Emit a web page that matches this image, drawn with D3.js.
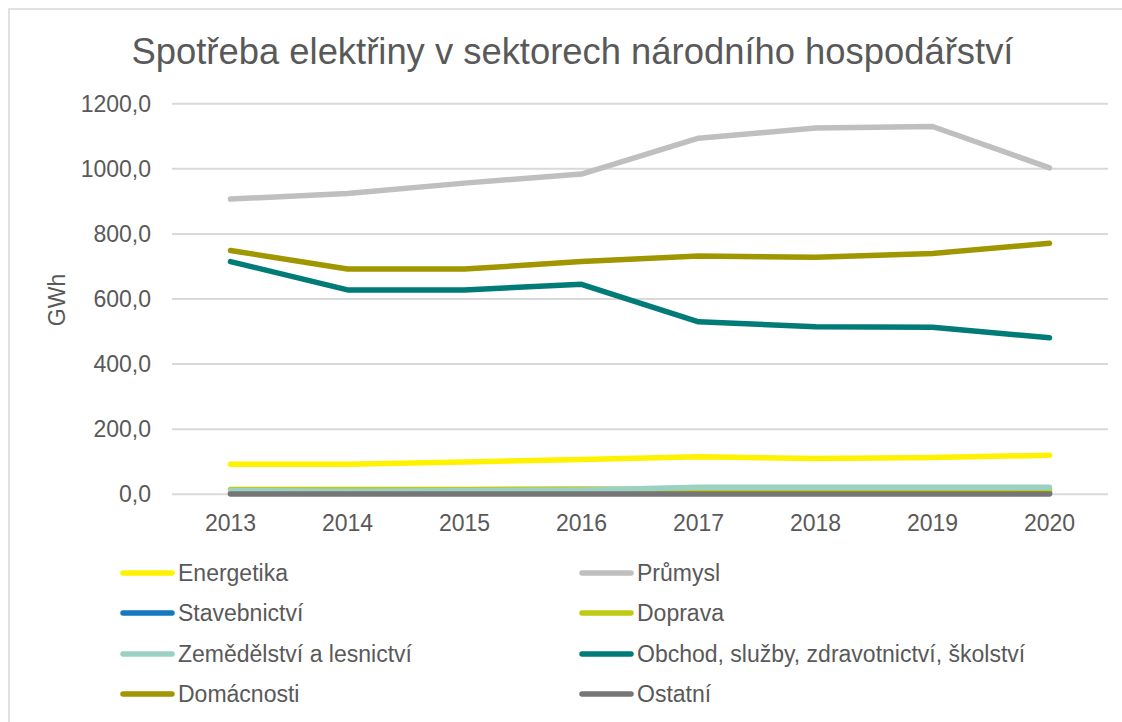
<!DOCTYPE html>
<html><head><meta charset="utf-8">
<script src="https://cdn.jsdelivr.net/npm/d3@7"></script>
<style>body{margin:0;background:#fff;} svg{display:block;font-family:"Liberation Sans",Arial,sans-serif;}</style>
</head><body><svg id="c" width="1122" height="722"></svg>
<script>
const years = ["2013","2014","2015","2016","2017","2018","2019","2020"];
const seriesNames = ["Energetika","Průmysl","Stavebnictví","Doprava","Zemědělství a lesnictví","Obchod, služby, zdravotnictví, školství","Domácnosti","Ostatní"];
const seriesColors = ["#FFF200","#BFBFBF","#1479BE","#BFCA12","#9AD1C3","#007B78","#A09700","#767676"];
const energetika = [92, 92, 99, 107, 115, 110, 113, 120];
const prumysl = [907, 924, 956, 984, 1094, 1125, 1130, 1003];
const stavebnictvi = [4, 4, 4, 4, 5, 5, 5, 5];
const doprava = [15, 15, 15, 16, 15, 15, 15, 15];
const zemedelstvi = [11, 9, 11, 13, 22, 22, 22, 22];
const obchod = [715, 628, 628, 645, 530, 515, 513, 481];
const domacnosti = [749, 692, 692, 715, 732, 728, 740, 771];
const ostatni = [1, 1, 1, 1, 1, 1, 1, 1];
const seriesValues = [energetika, prumysl, stavebnictvi, doprava, zemedelstvi, obchod, domacnosti, ostatni];
const yTicks = [0,200,400,600,800,1000,1200];
const title = "Spotřeba elektřiny v sektorech národního hospodářství";
const yTitle = "GWh";

const svg = d3.select("#c");
const txt = "#595959";
svg.append("rect").attr("x",0).attr("y",0).attr("width",1122).attr("height",722).attr("fill","#fff");
svg.append("rect").attr("x",9).attr("y",9).attr("width",1120).attr("height",720)
  .attr("fill","none").attr("stroke","#d9d9d9").attr("stroke-width",1.5);

const x = d3.scaleBand().domain(years).range([172,1108]).padding(0);
const y = d3.scaleLinear().domain([0,1200]).range([494.3,103.7]);

svg.append("text").attr("x",572.5).attr("y",64).attr("text-anchor","middle")
  .attr("font-size",36.4).attr("fill",txt).text(title);

// gridlines
svg.append("g").selectAll("line").data(yTicks).join("line")
  .attr("x1",172).attr("x2",1108).attr("y1",d=>y(d)).attr("y2",d=>y(d))
  .attr("stroke","#d9d9d9").attr("stroke-width",2);

// y axis labels
const fmt = d => d3.format(".1f")(d).replace(".",",");
const yAxis = svg.append("g").attr("transform","translate(172,0)")
  .call(d3.axisLeft(y).tickValues(yTicks).tickFormat(fmt).tickSize(0).tickPadding(21));
yAxis.select(".domain").remove();
yAxis.selectAll("text").attr("font-size",23).attr("fill",txt).attr("font-family","Liberation Sans, Arial, sans-serif");

// x axis labels
const xAxis = svg.append("g").attr("transform","translate(0,494.3)")
  .call(d3.axisBottom(x).tickSize(0).tickPadding(20));
xAxis.select(".domain").remove();
xAxis.selectAll("text").attr("font-size",23).attr("fill",txt).attr("font-family","Liberation Sans, Arial, sans-serif");

svg.append("text").attr("transform","translate(65,300) rotate(-90)").attr("text-anchor","middle")
  .attr("font-size",23).attr("fill",txt).text(yTitle);

// lines
const line = d3.line().x((d,i)=>x(years[i])+x.bandwidth()/2).y(d=>y(d));
seriesValues.forEach((vals,i)=>{
  svg.append("path").attr("d",line(vals)).attr("fill","none")
    .attr("stroke",seriesColors[i]).attr("stroke-width",5.5)
    .attr("stroke-linejoin","round").attr("stroke-linecap","round");
});

// legend
const colX = [121, 580];
const rowY = [573, 613, 654, 694];
seriesNames.forEach((name,i)=>{
  const cx = colX[i%2], cy = rowY[Math.floor(i/2)];
  svg.append("line").attr("x1",cx+2).attr("x2",cx+51).attr("y1",cy).attr("y2",cy)
    .attr("stroke",seriesColors[i]).attr("stroke-width",5.5).attr("stroke-linecap","round");
  svg.append("text").attr("x",cx+57).attr("y",cy+8).attr("font-size",23).attr("fill",txt).text(name);
});
</script></body></html>
